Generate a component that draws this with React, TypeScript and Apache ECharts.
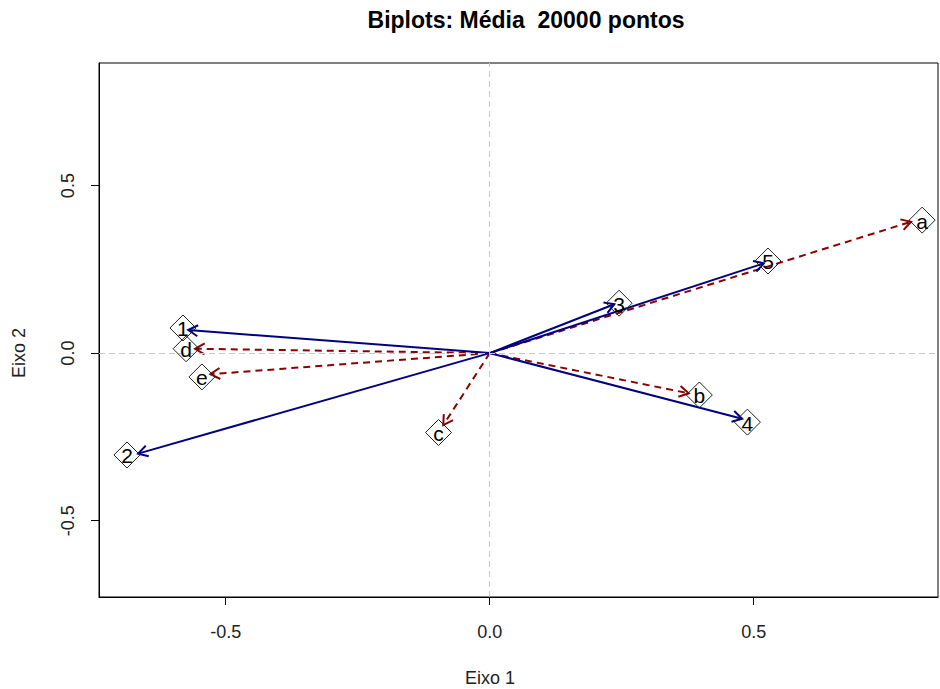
import React, { useEffect, useRef } from "react";
import * as echarts from "echarts";

// Variables (blue, solid arrows)
const varNames = ["1", "2", "3", "4", "5"];
const varTipX = [-0.571, -0.666, 0.236, 0.478, 0.519];
const varTipY = [0.069, -0.3, 0.146, -0.196, 0.268];
const varLabX = [-0.581, -0.687, 0.245, 0.488, 0.527];
const varLabY = [0.075, -0.304, 0.149, -0.206, 0.275];

// Individuals (red, dashed arrows)
const indNames = ["a", "b", "c", "d", "e"];
const indTipX = [0.798, 0.377, -0.088, -0.558, -0.529];
const indTipY = [0.392, -0.12, -0.215, 0.013, -0.063];
const indLabX = [0.819, 0.397, -0.097, -0.575, -0.545];
const indLabY = [0.397, -0.125, -0.237, 0.013, -0.071];

const tickValues = [-0.5, 0, 0.5];

const BLUE = "#000080";
const RED = "#8b0000";
const FONT = "Liberation Sans, Arial, sans-serif";

function arrowSeries(xs: number[], ys: number[], color: string, dash: number[] | null) {
  return {
    type: "custom",
    silent: true,
    data: xs.map((x, i) => [x, ys[i]]),
    encode: { x: 0, y: 1 },
    renderItem: (params: any, api: any) => {
      const o = api.coord([0, 0]);
      const e = api.coord([api.value(0), api.value(1)]);
      const ang = Math.atan2(e[1] - o[1], e[0] - o[0]);
      const L = 11;
      const a = Math.PI / 6;
      const h1 = [e[0] - L * Math.cos(ang - a), e[1] - L * Math.sin(ang - a)];
      const h2 = [e[0] - L * Math.cos(ang + a), e[1] - L * Math.sin(ang + a)];
      return {
        type: "group",
        children: [
          {
            type: "line",
            shape: { x1: o[0], y1: o[1], x2: e[0], y2: e[1] },
            style: { stroke: color, lineWidth: 2, lineDash: dash || undefined, fill: null },
          },
          {
            type: "polyline",
            shape: { points: [h1, e, h2] },
            style: { stroke: color, lineWidth: 2, fill: null },
          },
        ],
      };
    },
  };
}

// Hollow diamond with the name drawn inside it
function labelSeries(names: string[], xs: number[], ys: number[]) {
  return {
    type: "custom",
    silent: true,
    data: names.map((n, i) => [xs[i], ys[i], n]),
    encode: { x: 0, y: 1 },
    z: 5,
    renderItem: (params: any, api: any) => {
      const c = api.coord([api.value(0), api.value(1)]);
      const r = 13;
      const name = names[params.dataIndex];
      return {
        type: "group",
        children: [
          {
            type: "polygon",
            shape: {
              points: [
                [c[0], c[1] - r],
                [c[0] + r, c[1]],
                [c[0], c[1] + r],
                [c[0] - r, c[1]],
              ],
            },
            style: { fill: null, stroke: "#222", lineWidth: 1 },
          },
          {
            type: "text",
            x: c[0],
            y: c[1] + 1,
            style: {
              text: name,
              fill: "#000",
              fontSize: 21,
              fontFamily: FONT,
              textAlign: "center",
              textVerticalAlign: "middle",
            },
          },
        ],
      };
    },
  };
}

export default function App() {
  const ref = useRef<HTMLDivElement>(null);

  useEffect(() => {
    if (!ref.current) return;
    const chart = echarts.init(ref.current, null, { renderer: "svg" });
    chart.setOption({
      animation: false,
      backgroundColor: "#fff",
      grid: {
        left: 99,
        right: 2,
        top: 63,
        bottom: 92,
        show: true,
        borderColor: "#000",
        borderWidth: 1,
        outerBoundsMode: "none",
      },
      xAxis: {
        type: "value",
        min: -0.74,
        max: 0.849,
        splitLine: { show: false },
        axisLine: { onZero: false, lineStyle: { color: "#000", width: 1 } },
        axisTick: { show: true, length: 8, customValues: tickValues, lineStyle: { color: "#000" } },
        axisLabel: {
          customValues: tickValues,
          formatter: (v: number) => v.toFixed(1),
          color: "#222",
          fontSize: 18,
          fontFamily: FONT,
          margin: 26,
        },
      },
      yAxis: {
        type: "value",
        min: -0.728,
        max: 0.866,
        splitLine: { show: false },
        axisLine: { onZero: false, lineStyle: { color: "#000", width: 1 } },
        axisTick: { show: true, length: 8, customValues: tickValues, lineStyle: { color: "#000" } },
        axisLabel: {
          customValues: tickValues,
          formatter: (v: number) => v.toFixed(1),
          rotate: 90,
          color: "#222",
          fontSize: 18,
          fontFamily: FONT,
          margin: 22,
        },
      },
      graphic: [
        {
          type: "text",
          x: 526,
          y: 20,
          style: {
            text: "Biplots: Média  20000 pontos",
            fontSize: 23,
            fontWeight: "bold",
            fontFamily: FONT,
            fill: "#000",
            textAlign: "center",
            textVerticalAlign: "middle",
          },
        },
        {
          type: "text",
          x: 490,
          y: 678,
          style: {
            text: "Eixo 1",
            fontSize: 18,
            fontFamily: FONT,
            fill: "#222",
            textAlign: "center",
            textVerticalAlign: "middle",
          },
        },
        {
          type: "text",
          x: 19,
          y: 353,
          rotation: Math.PI / 2,
          style: {
            text: "Eixo 2",
            fontSize: 18,
            fontFamily: FONT,
            fill: "#222",
            textAlign: "center",
            textVerticalAlign: "middle",
          },
        },
      ],
      series: [
        {
          type: "line",
          silent: true,
          data: [],
          markLine: {
            silent: true,
            symbol: ["none", "none"],
            label: { show: false },
            lineStyle: { color: "#c8c8c8", type: [6, 4], width: 1 },
            data: [{ xAxis: 0 }, { yAxis: 0 }],
          },
        },
        arrowSeries(indTipX, indTipY, RED, [7, 5]),
        arrowSeries(varTipX, varTipY, BLUE, null),
        labelSeries(varNames, varLabX, varLabY),
        labelSeries(indNames, indLabX, indLabY),
      ],
    });
    return () => chart.dispose();
  }, []);

  return (
    <div
      ref={ref}
      style={{ position: "absolute", left: 0, top: 0, width: 940, height: 689 }}
    />
  );
}
